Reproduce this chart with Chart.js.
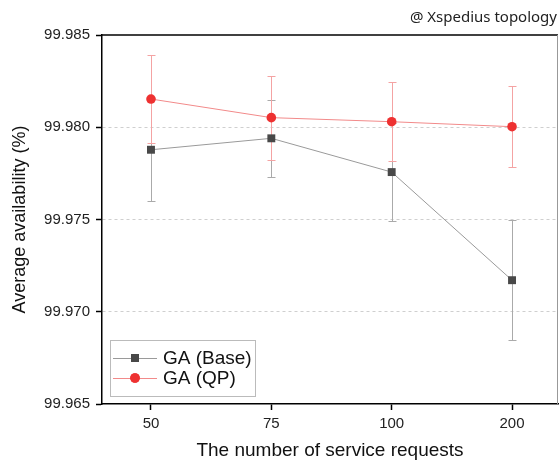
<!DOCTYPE html>
<html>
<head>
<meta charset="utf-8">
<script src="https://cdn.jsdelivr.net/npm/chart.js@4"></script>
<style>
  html, body { margin: 0; padding: 0; background: #fff; }
  #wrap { width: 559px; height: 462px; }
</style>
</head>
<body>
<div id="wrap"><canvas id="availChart" width="559" height="462"></canvas></div>
<script>
// values
var requests = ["50", "75", "100", "200"];
var baseAvail = [99.97878, 99.97940, 99.97757, 99.97171];
var baseErr = [0.00278, 0.00207, 0.00266, 0.00326];
var qpAvail = [99.98153, 99.98052, 99.98030, 99.98003];
var qpErr = [0.00236, 0.00228, 0.00215, 0.00220];
var yTicks = [99.965, 99.970, 99.975, 99.980, 99.985];

var font = "'Liberation Sans', Arial, sans-serif";

function toPoints(vals, errs) {
  return vals.map(function(v, i) {
    return { x: i, y: v, err: errs[i] };
  });
}

var errorBars = {
  id: 'errorBars',
  beforeDatasetsDraw: function(chart) {
    var ctx = chart.ctx;
    var y = chart.scales.y;
    chart.data.datasets.forEach(function(ds, di) {
      var meta = chart.getDatasetMeta(di);
      ctx.save();
      ctx.strokeStyle = ds.errColor;
      ctx.lineWidth = 1;
      meta.data.forEach(function(pt, i) {
        var d = ds.data[i];
        var top = Math.round(y.getPixelForValue(d.y + d.err)) + 0.5;
        var bot = Math.round(y.getPixelForValue(d.y - d.err)) + 0.5;
        var x = Math.round(pt.x) + 0.5;
        ctx.beginPath();
        ctx.moveTo(x, top); ctx.lineTo(x, bot);
        ctx.moveTo(x - 4, top); ctx.lineTo(x + 4, top);
        ctx.moveTo(x - 4, bot); ctx.lineTo(x + 4, bot);
        ctx.stroke();
      });
      ctx.restore();
    });
  }
};

var frameAndLegend = {
  id: 'frameAndLegend',
  afterDraw: function(chart) {
    var ctx = chart.ctx;
    var a = chart.chartArea;
    ctx.save();
    // top frame line
    ctx.strokeStyle = '#000';
    ctx.lineWidth = 1.5;
    ctx.beginPath();
    ctx.moveTo(a.left, a.top); ctx.lineTo(a.right, a.top);
    ctx.stroke();
    ctx.strokeStyle = '#999';
    ctx.lineWidth = 1;
    ctx.beginPath();
    ctx.moveTo(a.right - 0.5, a.top); ctx.lineTo(a.right - 0.5, a.bottom);
    ctx.stroke();

    // legend box
    var lx = 110, ly = 340, lw = 145, lh = 56;
    ctx.fillStyle = '#fff';
    ctx.fillRect(lx, ly, lw, lh);
    ctx.strokeStyle = '#bbb';
    ctx.strokeRect(lx + 0.5, ly + 0.5, lw, lh);
    ctx.font = '19px ' + font;
    ctx.textBaseline = 'middle';
    chart.data.datasets.forEach(function(ds, i) {
      var cy = ly + 18 + i * 20;
      ctx.strokeStyle = ds.borderColor;
      ctx.lineWidth = 1;
      ctx.beginPath();
      ctx.moveTo(lx + 3, cy + 0.5); ctx.lineTo(lx + 47, cy + 0.5);
      ctx.stroke();
      ctx.fillStyle = ds.pointBackgroundColor;
      Chart.helpers.drawPoint(ctx, { pointStyle: ds.pointStyle, radius: ds.pointRadius, rotation: 0, borderWidth: 0 }, lx + 25, cy);
      ctx.fill();
      ctx.fillStyle = '#111';
      ctx.fillText(ds.label, lx + 53, cy + 1);
    });
    ctx.restore();
  }
};

var ctx = document.getElementById('availChart').getContext('2d');
var availChart = new Chart(ctx, {
  type: 'line',
  data: {
    datasets: [{
      label: 'GA (Base)',
      data: toPoints(baseAvail, baseErr),
      borderColor: '#9a9a9a',
      borderWidth: 1,
      pointStyle: 'rect',
      pointRadius: 5.6,
      pointBackgroundColor: '#484848',
      pointBorderWidth: 0,
      errColor: '#aaaaaa'
    }, {
      label: 'GA (QP)',
      data: toPoints(qpAvail, qpErr),
      borderColor: '#f28a8a',
      borderWidth: 1,
      pointStyle: 'circle',
      pointRadius: 4.8,
      pointBackgroundColor: '#ee3131',
      pointBorderWidth: 0,
      errColor: '#f4a3a3'
    }]
  },
  options: {
    responsive: false,
    animation: false,
    layout: { autoPadding: false, padding: { top: 35, right: 1, left: 0, bottom: 0 } },
    plugins: {
      legend: { display: false },
      tooltip: { enabled: false },
      title: { display: false }
    },
    scales: {
      x: {
        type: 'linear',
        min: -0.407,
        max: 3.382,
        afterBuildTicks: function(scale) {
          scale.ticks = requests.map(function(r, i) { return { value: i }; });
        },
        afterFit: function(scale) {
          scale.height = 58;
          scale.paddingLeft = 0;
          scale.paddingRight = 0;
        },
        ticks: {
          color: '#222',
          font: { family: font, size: 15 },
          padding: 5,
          callback: function(v) { return requests[v]; }
        },
        grid: { drawOnChartArea: false, tickLength: 6, tickColor: '#000', tickWidth: 1.5 },
        border: { color: '#000', width: 1.5 },
        title: {
          display: true,
          text: 'The number of service requests',
          font: { family: font, size: 19 },
          color: '#111',
          padding: { top: 4, bottom: 0 }
        }
      },
      y: {
        min: 99.965,
        max: 99.985,
        afterBuildTicks: function(scale) {
          scale.ticks = yTicks.map(function(v) { return { value: v }; });
        },
        afterFit: function(scale) {
          scale.width = 102;
          scale.paddingTop = 0;
          scale.paddingBottom = 0;
        },
        ticks: {
          color: '#222',
          font: { family: font, size: 15 },
          padding: 6,
          callback: function(v) { return v.toFixed(3); }
        },
        grid: {
          color: function(c) {
            return (c.index === 0 || c.index === yTicks.length - 1) ? 'rgba(0,0,0,0)' : '#cfcfcf';
          },
          lineWidth: 1,
          tickLength: 6,
          tickColor: '#000',
          tickWidth: 1.5,
          tickBorderDash: []
        },
        border: { color: '#000', width: 1.5, dash: [3, 3] },
        title: {
          display: true,
          text: 'Average availability (%)',
          font: { family: font, size: 18 },
          color: '#111',
          padding: { top: 9, bottom: 0 }
        }
      }
    }
  },
  plugins: [errorBars, frameAndLegend]
});
</script>
<div style="position:absolute; top:6px; right:2px; font: 15px 'Noto Sans', 'Open Sans', sans-serif; color:#222;">@ Xspedius topology</div>
</body>
</html>
